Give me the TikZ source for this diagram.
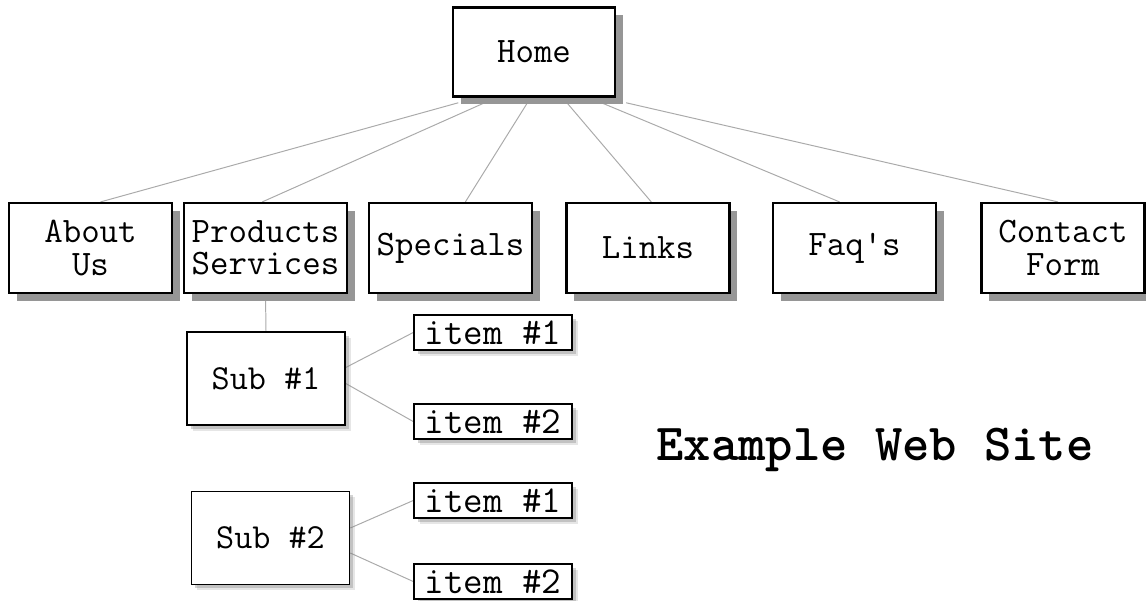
\documentclass[tikz,border=0pt]{standalone}
\usepackage{fontspec}
\usepackage{tikz}
\usetikzlibrary{calc, positioning, shadows, backgrounds}
\definecolor{linkgray}{RGB}{170,170,170}
\definecolor{shadegray}{RGB}{150,150,150}

\begin{document}
\begin{tikzpicture}[x=0.025cm, y=-0.025cm,
    pagebox/.style={draw, line width=1.5pt, fill=white, align=center, inner sep=2pt,
        minimum width=163*0.025cm, minimum height=90*0.025cm,
        font=\ttfamily\fontsize{25.5}{23}\selectfont,
        drop shadow={shadow xshift=5.5pt, shadow yshift=-5.5pt, fill=shadegray, opacity=1}},
    subbox/.style={draw, line width=1.1pt, fill=white, inner sep=2pt,
        minimum width=158*0.025cm, minimum height=93*0.025cm,
        font=\ttfamily\fontsize{25}{23}\selectfont,
        drop shadow={shadow xshift=4pt, shadow yshift=-4pt, fill=gray, opacity=0.2},
        drop shadow={shadow xshift=2.5pt, shadow yshift=-2.5pt, fill=gray, opacity=0.35}},
    itembox/.style={subbox, minimum height=35*0.025cm, font=\ttfamily\fontsize{27}{22}\selectfont},
    link/.style={draw=linkgray, line width=0.7pt}]
    \useasboundingbox (0,0) rectangle (1146,600);

    % top level
    \node[pagebox, minimum width=162*0.025cm, minimum height=89*0.025cm, line width=1.8pt] (home) at (534,52) {Home};

    \node[pagebox] (about)    at (90.5,248)  {About\\Us};
    \node[pagebox] (products) at (265.5,248) {Products\\Services};
    \node[pagebox] (specials) at (450.5,248) {Specials};
    \node[pagebox] (links)    at (648,248)   {Links};
    \node[pagebox] (faqs)     at (854.5,248) {Faq's};
    \node[pagebox] (contact)  at (1063,248)  {Contact\\Form};

    % second level
    \node[subbox] (sub1) at (266,378.5) {Sub \#1};
    \node[subbox] (sub2) at (270.5,538) {Sub \#2};

    \node[itembox] (itemA1) at (493,332.5) {item \#1};
    \node[itembox] (itemA2) at (493,421.5) {item \#2};
    \node[itembox] (itemB1) at (493,500.5) {item \#1};
    \node[itembox] (itemB2) at (493,581.5) {item \#2};

    \node[font=\ttfamily\bfseries\fontsize{37}{40}\selectfont] (title) at (875,450) {Example Web Site};

    \begin{scope}[on background layer]
        % home to each page
        \foreach \page/\from/\to in {about/0.04/0.56, products/0.2/0.48, specials/0.46/0.59,
                                     links/0.7/0.52, faqs/0.91/0.41, contact/1.06/0.47} {
            \draw[link] ($(home.south west)!\from!(home.south east) + (0,5)$)
                -- ($(\page.north west)!\to!(\page.north east)$);
        }
        \draw[link] (products.south) -- (sub1.north);
        \draw[link] ($(sub1.east) + (0,-11)$) -- (itemA1.west);
        \draw[link] ($(sub1.east) + (0,5)$) -- (itemA2.west);
        \draw[link] ($(sub2.east) + (0,-10)$) -- (itemB1.west);
        \draw[link] ($(sub2.east) + (0,15)$) -- (itemB2.west);
    \end{scope}
\end{tikzpicture}
\end{document}
